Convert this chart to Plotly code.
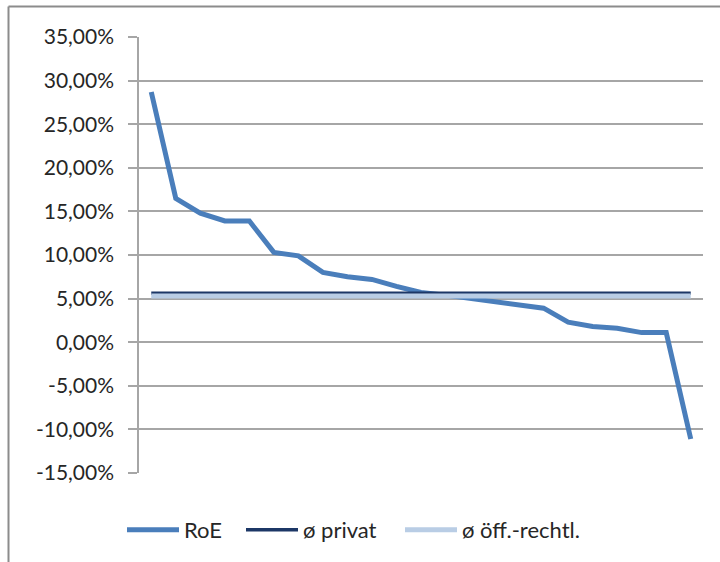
import plotly.graph_objects as go

# Return on equity per institution, sorted descending (fractions)
roe = [0.287, 0.165, 0.148, 0.139, 0.139, 0.103, 0.099, 0.080, 0.075, 0.072,
       0.064, 0.057, 0.054, 0.050, 0.047, 0.042, 0.039, 0.023, 0.018, 0.016,
       0.011, 0.011, -0.111]
categories = list(range(1, len(roe) + 1))

# Group averages
avg_privat = 0.056
avg_oeff = 0.053
privat = [avg_privat] * len(categories)
oeff = [avg_oeff] * len(categories)

tick_vals = [-0.15, -0.10, -0.05, 0.0, 0.05, 0.10, 0.15, 0.20, 0.25, 0.30, 0.35]
tick_text = ["-15,00%", "-10,00%", "-5,00%", "0,00%", "5,00%", "10,00%",
             "15,00%", "20,00%", "25,00%", "30,00%", "35,00%"]

FONT = "Lato, 'Open Sans', sans-serif"

fig = go.Figure()
fig.add_trace(go.Scatter(x=categories, y=roe, name="RoE", mode="lines",
                         line=dict(color="#4a7ebb", width=5), legend="legend"))
fig.add_trace(go.Scatter(x=categories, y=privat, name="ø privat", mode="lines",
                         line=dict(color="#1c3766", width=3.5), legend="legend2"))
fig.add_trace(go.Scatter(x=categories, y=oeff, name="ø öff.-rechtl.", mode="lines",
                         line=dict(color="#b9cde5", width=5), legend="legend3"))


def legend_at(px):
    # one legend box per series, anchored at a pixel position along the bottom
    return dict(orientation="h", xref="container", yref="container",
                x=px / 720, xanchor="left", y=0.057, yanchor="middle",
                font=dict(size=22), itemwidth=52, bgcolor="rgba(0,0,0,0)")


fig.update_layout(
    width=720, height=562,
    margin=dict(l=139, r=17, t=37, b=89),
    paper_bgcolor="white", plot_bgcolor="white",
    font=dict(family=FONT, size=21, color="#262626"),
    showlegend=True,
    legend=legend_at(122),
    legend2=legend_at(241),
    legend3=legend_at(400),
    xaxis=dict(range=[0.5, len(categories) + 0.5], showgrid=False, zeroline=False,
               showticklabels=False, ticks="", showline=False),
    yaxis=dict(range=[-0.15, 0.35], tickvals=tick_vals, ticktext=tick_text,
               showgrid=True, gridcolor="#a6a6a6", gridwidth=1.5,
               zeroline=False, showline=True, linecolor="#a6a6a6", linewidth=1.5,
               ticks="outside", ticklen=9, tickcolor="#a6a6a6", tickwidth=1.5,
               ticklabelstandoff=10),
    shapes=[
        dict(type="line", xref="paper", yref="paper",
             x0=(8.5 - 139) / 564, x1=1.2, y0=(473 - 6.5) / 436, y1=(473 - 6.5) / 436,
             line=dict(color="#8c8c8c", width=2)),
        dict(type="line", xref="paper", yref="paper",
             x0=(8.5 - 139) / 564, x1=(8.5 - 139) / 564, y0=(473 - 6.5) / 436, y1=-0.3,
             line=dict(color="#8c8c8c", width=2)),
    ],
)

fig.write_html("out.html")
